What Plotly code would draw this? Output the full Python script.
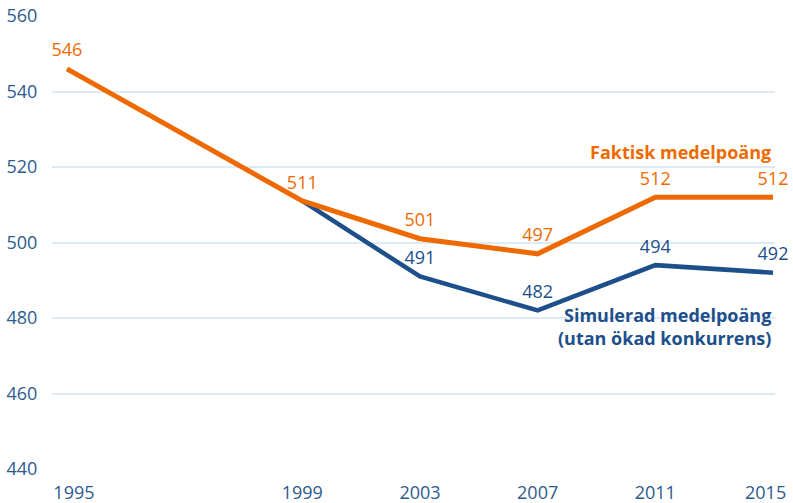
import plotly.graph_objects as go

categories = ["1995", " ", "1999", "2003", "2007", "2011", "2015"]
tick_text = ["\u00a0\u00a0\u00a01995", " ", "1999", "2003", "2007", "2011", ""]
last_tick_label = "2015"
faktisk_years = ["1995", "1999", "2003", "2007", "2011", "2015"]
faktisk_values = [546, 511, 501, 497, 512, 512]
sim_years = ["1999", "2003", "2007", "2011", "2015"]
sim_values = [511, 491, 482, 494, 492]
sim_labels = ["", "491", "482", "494", "492"]
y_ticks = [440, 460, 480, 500, 520, 540, 560]

ORANGE = "#EE6A00"
BLUE = "#1D4F8A"
TICK = "#2C5B8E"
FONT = "Open Sans"

fig = go.Figure()
fig.add_trace(go.Scatter(
    x=sim_years, y=sim_values, mode="lines+markers+text",
    line=dict(color=BLUE, width=4.5),
    marker=dict(size=11, color="rgba(0,0,0,0)"),
    text=sim_labels, textposition="top center",
    textfont=dict(family=FONT, size=18, color=BLUE),
    cliponaxis=False, showlegend=False, hoverinfo="skip",
))
fig.add_trace(go.Scatter(
    x=faktisk_years, y=faktisk_values, mode="lines+markers+text",
    line=dict(color=ORANGE, width=5),
    marker=dict(size=11, color="rgba(0,0,0,0)"),
    text=[str(v) for v in faktisk_values], textposition="top center",
    textfont=dict(family=FONT, size=18, color=ORANGE),
    cliponaxis=False, showlegend=False, hoverinfo="skip",
))

last_idx = categories.index("2015")
fig.add_annotation(
    x=last_idx, y=524, xref="x", yref="y", xanchor="right", yanchor="middle",
    text="<b>Faktisk medelpoäng</b>", showarrow=False, align="right",
    font=dict(family=FONT, size=18, color=ORANGE),
)
fig.add_annotation(
    x=last_idx, y=477.7, xref="x", yref="y", xanchor="right", yanchor="middle",
    text="<b>Simulerad medelpoäng<br>(utan ökad konkurrens)</b>", showarrow=False,
    align="right", font=dict(family=FONT, size=18, color=BLUE),
)
# last x tick label, kept inside the page edge
fig.add_annotation(
    x=last_idx, y=0, xref="x", yref="paper", xanchor="right", yanchor="middle",
    xshift=15, yshift=-23, text=last_tick_label, showarrow=False,
    font=dict(family=FONT, size=18, color=TICK),
)

fig.update_layout(
    width=793, height=503,
    margin=dict(l=52, r=18, t=16, b=34),
    paper_bgcolor="white", plot_bgcolor="white",
    font=dict(family=FONT, size=18, color=TICK),
    xaxis=dict(
        type="category", categoryorder="array", categoryarray=categories,
        tickvals=categories, ticktext=tick_text,
        range=[-0.127, 6.017], showgrid=False, zeroline=False, showline=False,
        ticks="outside", ticklen=7, tickcolor="rgba(0,0,0,0)", automargin=False,
        tickfont=dict(family=FONT, size=18, color=TICK),
    ),
    yaxis=dict(
        range=[440, 560], tickvals=y_ticks, showgrid=True, gridcolor="#DDEBF7",
        gridwidth=1.5, zeroline=False, showline=False, automargin=False,
        ticks="outside", ticklen=10, tickcolor="rgba(0,0,0,0)",
        tickfont=dict(family=FONT, size=18, color=TICK),
    ),
)

fig.write_html(
    "out.html",
    config={"displayModeBar": False},
    post_script="document.body.style.margin='0';document.body.style.overflow='hidden';",
)
